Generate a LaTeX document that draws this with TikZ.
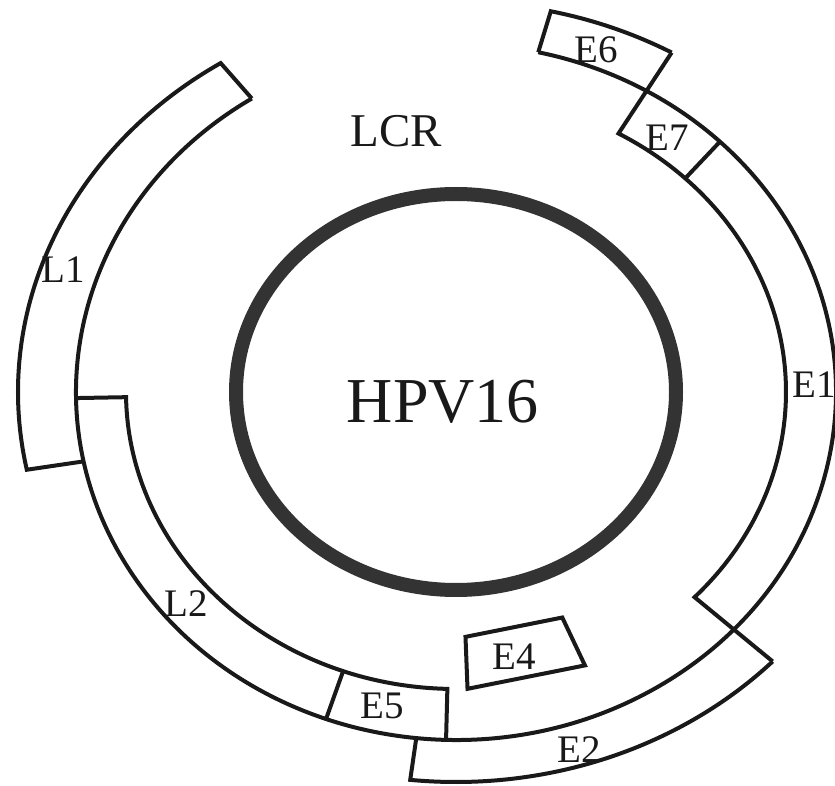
\documentclass[tikz,border=0pt]{standalone}
\usepackage{fontspec}
\setmainfont{Liberation Serif}
\begin{document}
\begin{tikzpicture}[x=1pt,y=1pt,
  seg/.style={line width=4pt, draw=black!90, line join=miter},
  lbl/.style={inner sep=0pt, font=\fontsize{39}{39}\selectfont, text=black!90},
]
\useasboundingbox (0,0) rectangle (835,785);
\begin{scope}[shift={(456,393)}]
  % central genome circle
  \draw[line width=14pt, draw=black!80] (0,0) ellipse [x radius=220, y radius=198];
  % main outer arc (L1 inner edge ... E6 bottom edge)
  \draw[seg] (122.5:380 and 348) arc[start angle=122.5, end angle=437.5, x radius=380, y radius=348];
  % L2 + E5 band
  \draw[seg] (181:380 and 348) -- (181:330 and 297)
     arc[start angle=181, end angle=268.5, x radius=330, y radius=297] -- (268.5:380 and 348);
  \draw[seg] (250:330 and 297) -- (250:380 and 348);
  % E1 + E7 band
  \draw[seg] (-43.7:438 and 390) -- (-43.7:330 and 297)
     arc[start angle=-43.7, end angle=60.5, x radius=330, y radius=297] -- (60.5:438 and 390);
  \draw[seg] (46:330 and 297) -- (46:380 and 348);
  % E6
  \draw[seg] (77.5:380 and 348) -- (77.5:438 and 390)
     arc[start angle=77.5, end angle=60.5, x radius=438, y radius=390];
  % L1
  \draw[seg] (122.5:380 and 348) -- (122.5:438 and 390)
     arc[start angle=122.5, end angle=191.5, x radius=438, y radius=390] -- (191.5:380 and 348);
  % E2
  \draw[seg] (264:380 and 348) -- (264:438 and 390)
     arc[start angle=264, end angle=316.3, x radius=438, y radius=390];
  % E4
  \draw[seg] (272:272 and 245) -- (293:272 and 245) -- (293:330 and 297) -- (272:330 and 297) -- cycle;
\end{scope}
\node[inner sep=0pt, font=\fontsize{64}{64}\selectfont, text=black!90] (hpv) at (443,383) {HPV16};
\node[inner sep=0pt, font=\fontsize{47}{47}\selectfont, text=black!90] (lcr) at (396,654) {LCR};
\node[lbl] (e6) at (596,735) {E6};
\node[lbl] (e7) at (667,647) {E7};
\node[lbl] (e1) at (814,400) {E1};
\node[lbl] (e2) at (579,35) {E2};
\node[lbl] (e5) at (382,79) {E5};
\node[lbl] (e4) at (514,128) {E4};
\node[lbl] (l2) at (186,181) {L2};
\node[lbl] (l1) at (63,515) {L1};
\end{tikzpicture}
\end{document}
